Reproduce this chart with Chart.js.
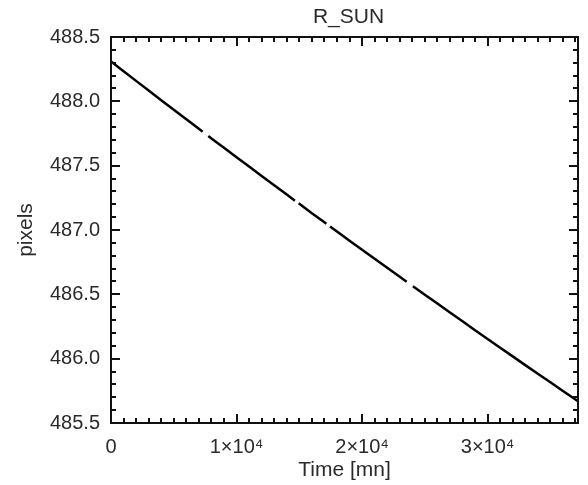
<!DOCTYPE html>
<html>
<head>
<meta charset="utf-8">
<script src="https://cdn.jsdelivr.net/npm/chart.js@4"></script>
<style>
  html, body { margin: 0; padding: 0; background: #fff; }
  #wrap { width: 588px; height: 485px; }
</style>
</head>
<body>
<div id="wrap"><canvas id="rsun"></canvas></div>
<script>
// Time samples [mn] and solar radius [pixels]; null marks a data gap
const times = [
  0, 1000, 2000, 3000, 4000, 5000, 6000, 7000, 7300, 7520, 7750,
  8000, 9000, 10000, 11000, 12000, 13000, 14000, 14650, 14800, 14950,
  16000, 17000, 17150, 17300, 17450, 18000, 19000, 20000, 21000, 22000,
  23000, 23550, 23800, 24050, 25000, 26000, 27000, 28000, 29000, 30000,
  31000, 32000, 33000, 34000, 35000, 36000, 37000, 37200
];
const radius = [
  488.310, 488.234, 488.159, 488.084, 488.009, 487.935, 487.860, 487.786, 487.764, null, 487.731,
  487.712, 487.639, 487.566, 487.493, 487.420, 487.347, 487.275, 487.228, null, 487.207,
  487.131, 487.060, 487.049, null, 487.028, 486.988, 486.917, 486.847, 486.776, 486.706,
  486.636, 486.598, null, 486.563, 486.497, 486.428, 486.359, 486.290, 486.221, 486.153,
  486.085, 486.018, 485.950, 485.883, 485.816, 485.749, 485.683, 485.670
];

const xTickValues = [0, 10000, 20000, 30000];
const xTickLabels = ['0', '1×10⁴', '2×10⁴', '3×10⁴'];
const yTickValues = [485.5, 486.0, 486.5, 487.0, 487.5, 488.0, 488.5];
const yTickLabels = ['485.5', '486.0', '486.5', '487.0', '487.5', '488.0', '488.5'];

const X_MIN = 0, X_MAX = 37200;
const Y_MIN = 485.5, Y_MAX = 488.5;
const TITLE = 'R_SUN';
const FONT = '"Liberation Sans", Arial, sans-serif';
const TEXT = '#2a2a2a';

// IDL-style box with inward major/minor ticks on all four sides, plus title
const frame = {
  id: 'frame',
  afterDraw(chart) {
    const { ctx, chartArea: a, scales: { x, y } } = chart;
    ctx.save();
    ctx.strokeStyle = '#111';
    ctx.lineWidth = 2;
    ctx.strokeRect(a.left, a.top, a.right - a.left, a.bottom - a.top);
    ctx.beginPath();
    for (let v = X_MIN; v <= X_MAX; v += 1000) {
      const px = Math.round(x.getPixelForValue(v));
      const len = v % 10000 === 0 ? 9 : 5;
      ctx.moveTo(px, a.bottom); ctx.lineTo(px, a.bottom - len);
      ctx.moveTo(px, a.top); ctx.lineTo(px, a.top + len);
    }
    for (let i = 0; i <= 30; i++) {
      const py = Math.round(y.getPixelForValue(Y_MIN + i * 0.1));
      const len = i % 5 === 0 ? 9 : 5;
      ctx.moveTo(a.left, py); ctx.lineTo(a.left + len, py);
      ctx.moveTo(a.right, py); ctx.lineTo(a.right - len, py);
    }
    ctx.stroke();
    ctx.fillStyle = TEXT;
    ctx.font = '21px ' + FONT;
    ctx.textAlign = 'center';
    ctx.textBaseline = 'middle';
    ctx.fillText(TITLE, (a.left + a.right) / 2 + 4, 17);
    ctx.restore();
  }
};

new Chart(document.getElementById('rsun'), {
  type: 'line',
  data: {
    datasets: [{
      data: times.map((t, i) => ({ x: t, y: radius[i] })),
      borderColor: '#000',
      borderWidth: 2.5,
      pointRadius: 0,
      tension: 0,
      spanGaps: false
    }]
  },
  options: {
    responsive: true,
    maintainAspectRatio: false,
    animation: false,
    layout: { padding: { top: 37, right: 10, bottom: 0, left: 0 } },
    plugins: { legend: { display: false }, tooltip: { enabled: false } },
    scales: {
      x: {
        type: 'linear',
        min: X_MIN,
        max: X_MAX,
        grid: { display: false, drawTicks: false },
        border: { display: false },
        afterBuildTicks: s => { s.ticks = xTickValues.map(v => ({ value: v })); },
        afterFit: s => { s.height = 62; },
        ticks: {
          padding: 12,
          maxRotation: 0,
          color: TEXT,
          font: { family: FONT, size: 20 },
          callback: (v, i) => xTickLabels[i]
        },
        title: {
          display: true,
          text: 'Time [mn]',
          color: TEXT,
          font: { family: FONT, size: 21 },
          padding: { top: 0, bottom: 2 }
        }
      },
      y: {
        type: 'linear',
        min: Y_MIN,
        max: Y_MAX,
        grid: { display: false, drawTicks: false },
        border: { display: false },
        afterBuildTicks: s => { s.ticks = yTickValues.map(v => ({ value: v })); },
        afterFit: s => { s.width = 111; },
        ticks: {
          padding: 11,
          color: TEXT,
          font: { family: FONT, size: 20 },
          callback: (v, i) => yTickLabels[i]
        },
        title: {
          display: true,
          text: 'pixels',
          color: TEXT,
          font: { family: FONT, size: 21 },
          padding: { top: 14, bottom: 0 }
        }
      }
    }
  },
  plugins: [frame]
});
</script>
</body>
</html>
